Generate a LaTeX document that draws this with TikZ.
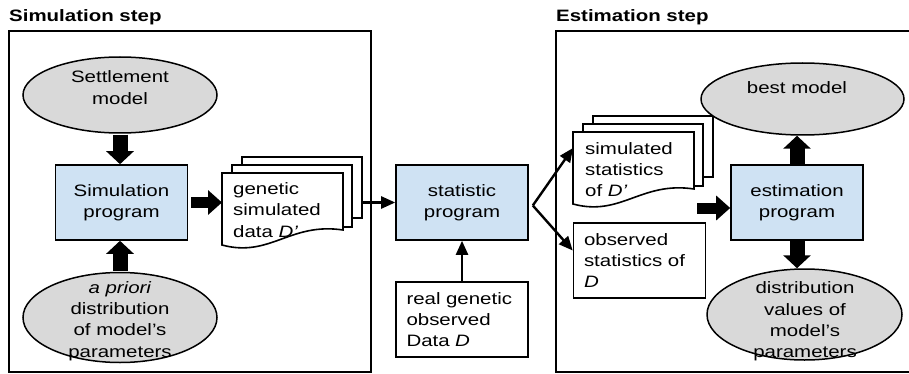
\documentclass[tikz,border=0pt]{standalone}
\usepackage{fontspec}
\setmainfont{Liberation Sans}[FakeStretch=1.24]
\usetikzlibrary{arrows.meta,shapes.geometric,calc}
\definecolor{boxblue}{HTML}{CFE2F3}
\definecolor{ellgrey}{HTML}{D9D9D9}

\tikzset{
  panel/.style={draw=black, line width=1.8pt},
  prog/.style={draw, line width=1.6pt, fill=boxblue, minimum width=132pt,
    minimum height=75pt, inner sep=0pt, align=center,
    font=\fontsize{16.5}{21.3}\selectfont},
  databox/.style={draw, line width=1.6pt, fill=white, minimum height=75pt,
    inner xsep=10.5pt, inner ysep=0pt, text width=111pt, align=left,
    font=\fontsize{16.5}{21.3}\selectfont},
  ell/.style={ellipse, draw, line width=1.5pt, fill=ellgrey, inner sep=0pt},
  txt/.style={inner sep=0pt, font=\fontsize{16.5}{21.3}\selectfont, align=center},
  ltxt/.style={txt, align=left, anchor=west},
  ttl/.style={inner sep=0pt, anchor=west, font=\fontsize{16.5}{20}\selectfont\bfseries},
  page/.style={draw, line width=1.6pt, fill=white, line join=miter},
  blockv/.style={line width=15pt, -{Triangle[length=13pt,width=27pt]}},
  blockh/.style={line width=11pt, -{Triangle[length=14pt,width=24pt]}},
  link/.style={line width=2.4pt, -{Triangle[length=14pt,width=12pt]}},
}

% a stack of three pages, the front one with a wavy lower edge
\newcommand{\pagestack}[2]{%
  \begin{scope}[shift={#2}]
    \draw[page] (20,-16) rectangle (140,45);
    \draw[page] (10,-8) rectangle (130,54);
    \draw[page] (0,0) -- (121,0) -- (121,57)
      .. controls (68,49) and (48,85) .. (0,72) -- cycle;
    \node[inner sep=0pt, minimum width=121pt, minimum height=72pt,
      anchor=north west] (#1) at (0,0) {};
    \node[inner sep=0pt, minimum width=120pt, minimum height=61pt,
      anchor=north west] (#1back) at (20,-16) {};
  \end{scope}}

\begin{document}
\begin{tikzpicture}[x=1pt, y=-1pt]
  \useasboundingbox (0,0) rectangle (909,374);
  \fill[white] (0,0) rectangle (909,374);

  % titles and panels
  \node[ttl] (simtitle) at (9,17.5) {Simulation step};
  \node[ttl] (esttitle) at (556,17.5) {Estimation step};
  \draw[panel] (9,31) rectangle (371,372);
  \draw[panel] (914,31) -- (556,31) -- (556,372) -- (914,372);

  % simulation step
  \node[ell, minimum width=194pt, minimum height=76pt] (sett) at (120,95) {};
  \node[txt] (setttxt) at (120,87.5) {Settlement\\model};
  \node[prog] (sim) at (121.5,202.5) {Simulation\\program};
  \node[ell, minimum width=194pt, minimum height=90pt] (prior) at (120,317.5) {};
  \node[txt] (priortxt) at (120,321) {\textit{a priori}\\distribution\\of model’s\\parameters};
  \pagestack{docA}{(222,173)}
  \node[ltxt] (docAtxt) at (233,210) {genetic\\simulated\\data \textit{D’}};

  % statistics
  \node[prog] (stat) at (462,202.5) {statistic\\program};
  \node[databox] (real) at (462,319.5) {real genetic\\observed\\Data \textit{D}};

  % estimation step
  \pagestack{docB}{(573,132)}
  \node[ltxt] (docBtxt) at (585,169.5) {simulated\\statistics\\of \textit{D’}};
  \node[databox] (obs) at (639.5,260.5) {observed\\statistics of\\\textit{D}};
  \node[prog] (est) at (797,202.5) {estimation\\program};
  \node[ell, minimum width=203pt, minimum height=72pt] (best) at (802.5,99) {};
  \node[txt] (besttxt) at (797,88) {best model};
  \node[ell, minimum width=195pt, minimum height=91pt] (dist) at (804.5,314.5) {};
  \node[txt] (disttxt) at (805,321.5) {distribution\\values of\\model’s\\parameters};

  % connectors
  \draw[blockv] ([yshift=-1pt]sett.south) -- (sett.south |- sim.north);
  \draw[blockv] ([yshift=1pt]prior.north) -- (prior.north |- sim.south);
  \draw[blockh] ([xshift=3pt]sim.east) -- (sim.east -| docA.west);
  \draw[link] (docAback.east |- stat.west) -- (stat.west);
  \draw[link] (real.north) -- (stat.south);
  \coordinate (fork) at ([xshift=4pt,yshift=-3pt]stat.east);
  \draw[link] (fork) -- ([yshift=-16pt]docB.north west);
  \draw[link] (fork) -- ([yshift=10pt]obs.west);
  \coordinate (estin) at (697,208);
  \draw[blockh] (estin) -- (estin -| est.west);
  \draw[blockv] (est.north) -- (est.north |- best.south);
  \draw[blockv] (est.south) -- (est.south |- dist.north);
\end{tikzpicture}
\end{document}
